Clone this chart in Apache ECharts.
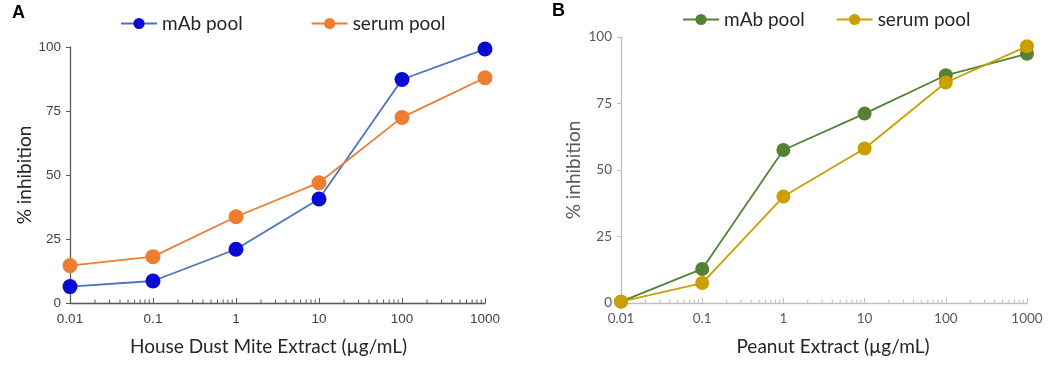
<!DOCTYPE html>
<html>
<head>
<meta charset="utf-8">
<script src="https://cdn.jsdelivr.net/npm/echarts@6/dist/echarts.min.js"></script>
<style>
  html, body { margin: 0; padding: 0; background: #fff; }
  #chart { width: 1053px; height: 365px; }
</style>
</head>
<body>
<div id="chart"></div>
<script>
// concentrations (µg/mL), same for both panels
var conc = [0.01, 0.1, 1, 10, 100, 1000];
var xTickLabels = ['0.01', '0.1', '1', '10', '100', '1000'];

// panel A: house dust mite
var hdmMab = [6.4, 8.6, 21, 40.6, 87.3, 99.2];
var hdmSerum = [14.6, 18.1, 33.7, 47, 72.5, 88];

// panel B: peanut
var pnMab = [0.5, 12.8, 57.5, 71.2, 85.6, 93.7];
var pnSerum = [0.5, 7.5, 40, 58.1, 82.9, 96.5];

// minor tick positions 2..9 within each decade (axis furniture)
var minorTicks = [];
for (var d = -2; d < 3; d++) {
    for (var k = 2; k < 10; k++) {
        minorTicks.push([+(k * Math.pow(10, d)).toPrecision(3), 0]);
    }
}

function pairs(xs, ys) {
    return xs.map(function (x, i) { return [x, ys[i]]; });
}

var chart = echarts.init(document.getElementById('chart'));

function minorTickSeries(idx, color) {
    return {
        type: 'custom',
        xAxisIndex: idx,
        yAxisIndex: idx,
        silent: true,
        clip: false,
        data: minorTicks,
        renderItem: function (params, api) {
            var p = api.coord([api.value(0), 0]);
            return {
                type: 'line',
                shape: { x1: p[0], y1: p[1], x2: p[0], y2: p[1] - 3.5 },
                style: { stroke: color, lineWidth: 1 }
            };
        }
    };
}

function xAxisCfg(idx, name, axisColor, labelFont, labelColor, namePad) {
    return {
        type: 'log',
        logBase: 10,
        gridIndex: idx,
        min: 0.01,
        max: 1000,
        name: name,
        nameLocation: 'middle',
        nameGap: 34,
        nameTextStyle: { fontFamily: 'Lato', fontSize: 19, color: '#262626', padding: namePad },
        axisLine: { show: true, lineStyle: { color: axisColor, width: 1.3 } },
        axisTick: { show: true, inside: true, length: 5, lineStyle: { color: axisColor } },
        minorTick: { show: false },
        splitLine: { show: false },
        axisLabel: {
            fontFamily: labelFont, fontSize: 13.5, color: labelColor, margin: 9,
            formatter: function (v, i) { return xTickLabels[i]; }
        }
    };
}

function yAxisCfg(idx, axisColor, labelFont, labelColor, nameColor, nameGap) {
    return {
        type: 'value',
        gridIndex: idx,
        min: 0,
        max: 100,
        interval: 25,
        name: '% inhibition',
        nameLocation: 'middle',
        nameGap: nameGap,
        nameTextStyle: { fontFamily: 'Lato', fontSize: 19, color: nameColor },
        axisLine: { show: true, lineStyle: { color: axisColor, width: 1.3 } },
        axisTick: { show: true, length: 4, lineStyle: { color: axisColor } },
        splitLine: { show: false },
        axisLabel: { fontFamily: labelFont, fontSize: 13.5, color: labelColor, margin: 9 }
    };
}

function lineSeries(name, idx, data, lineColor, dotColor, size) {
    return {
        name: name,
        type: 'line',
        xAxisIndex: idx,
        yAxisIndex: idx,
        data: data,
        symbol: 'circle',
        symbolSize: size,
        lineStyle: { color: lineColor, width: 1.8 },
        itemStyle: { color: dotColor, borderWidth: 0 },
        z: 3
    };
}

var option = {
    animation: false,
    backgroundColor: '#fff',
    graphic: [
        { type: 'text', left: 12, top: 4, style: { text: 'A', font: 'bold 18px Liberation Sans', fill: '#000' } },
        { type: 'text', left: 552, top: 2, style: { text: 'B', font: 'bold 18px Liberation Sans', fill: '#000' } }
    ],
    legend: [
        {
            data: ['A mAb pool', 'A serum pool'],
            left: 115, top: 9,
            itemWidth: 36, itemHeight: 14, itemGap: 68,
            formatter: function (n) { return n.slice(2); },
            textStyle: { fontFamily: 'Lato', fontSize: 19, color: '#262626' }
        },
        {
            data: ['B mAb pool', 'B serum pool'],
            left: 677, top: 5,
            itemWidth: 36, itemHeight: 14, itemGap: 31,
            formatter: function (n) { return n.slice(2); },
            textStyle: { fontFamily: 'Lato', fontSize: 19, color: '#262626' }
        }
    ],
    grid: [
        { left: 70, top: 47, width: 415, height: 256 },
        { left: 621, top: 37, width: 406, height: 266 }
    ],
    xAxis: [
        xAxisCfg(0, 'House Dust Mite Extract (µg/mL)', '#595959', 'Liberation Sans', '#404040', [0, 18, 0, 0]),
        xAxisCfg(1, 'Peanut Extract (µg/mL)', '#bfbfbf', 'Lato', '#595959', [0, 0, 0, 18])
    ],
    yAxis: [
        yAxisCfg(0, '#595959', 'Liberation Sans', '#404040', '#262626', 28),
        yAxisCfg(1, '#bfbfbf', 'Lato', '#595959', '#595959', 38)
    ],
    series: [
        minorTickSeries(0, '#595959'),
        minorTickSeries(1, '#bfbfbf'),
        lineSeries('A mAb pool', 0, pairs(conc, hdmMab), '#4a75bd', '#0a0ad2', 15),
        lineSeries('A serum pool', 0, pairs(conc, hdmSerum), '#ed7d31', '#ed7d31', 15),
        lineSeries('B mAb pool', 1, pairs(conc, pnMab), '#548235', '#548235', 14),
        lineSeries('B serum pool', 1, pairs(conc, pnSerum), '#c9a000', '#c9a000', 14)
    ]
};

chart.setOption(option);
</script>
</body>
</html>
